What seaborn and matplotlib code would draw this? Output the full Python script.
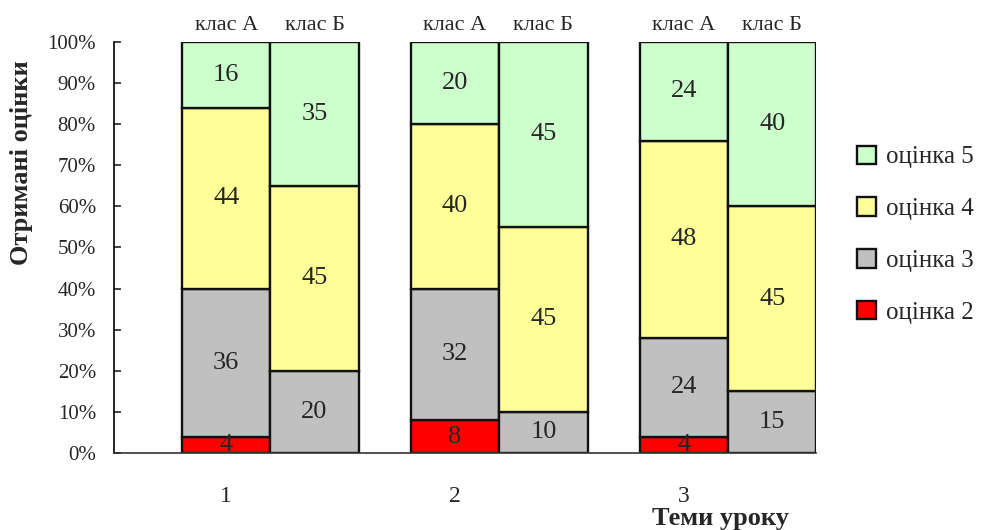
import numpy as np
import matplotlib
matplotlib.use("Agg")
import matplotlib.pyplot as plt
import seaborn as sns

# =================== Дані ===================
topics = ["1", "2", "3"]
classes = ["клас А", "клас Б"]
grades = ["оцінка 2", "оцінка 3", "оцінка 4", "оцінка 5"]
colors = ["#FF0000", "#C0C0C0", "#FFFF99", "#CCFFCC"]

# відсотки по темах: [тема] -> [оцінка 2, 3, 4, 5]
class_a = [[4, 36, 44, 16], [8, 32, 40, 20], [4, 24, 48, 24]]
class_b = [[0, 20, 45, 35], [0, 10, 45, 45], [0, 15, 45, 40]]

# =================== Стиль ===================
sns.set_style("ticks")
plt.rcParams['font.family'] = ['Liberation Serif', 'DejaVu Serif']

fig = plt.figure(figsize=(9.81, 5.3), dpi=100)
ax = fig.add_axes([0.1162, 0.1453, 0.716, 0.7755])

period = 2.59
pos_a = np.arange(len(topics)) * period
pos_b = pos_a + 1

for positions, data, first in [(pos_a, class_a, True), (pos_b, class_b, False)]:
    data = np.array(data) / 100.0
    bottom = np.zeros(len(positions))
    for g in range(len(grades)):
        vals = data[:, g]
        ax.bar(positions, vals, bottom=bottom, width=1.0, color=colors[g],
               edgecolor="#111111", linewidth=1.7, label=grades[g] if first else None)
        for x, b, v in zip(positions, bottom, vals):
            if v > 0:
                ax.text(x, b + v / 2, f"{v * 100:.0f}", ha="center", va="center", fontsize=19)
        bottom = bottom + vals

# підписи класів над стовпцями
for x in pos_a:
    ax.text(x, 1.018, classes[0], ha="center", va="bottom", fontsize=16)
for x in pos_b:
    ax.text(x, 1.018, classes[1], ha="center", va="bottom", fontsize=16)

ax.set_xlim(pos_a[0] - 1.27, pos_b[-1] + 0.5)
ax.set_ylim(0, 1)
yt = np.arange(0, 1.01, 0.1)
ax.set_yticks(yt)
ax.set_yticklabels([f"{int(round(t * 100))}%" for t in yt], fontsize=15)
ax.set_xticks(pos_a)
ax.set_xticklabels(topics, fontsize=17)
ax.tick_params(axis="x", length=0, pad=24)
ax.tick_params(axis="y", direction="in", length=5, width=1.2, pad=13)

sns.despine(ax=ax, top=True, right=True)
ax.spines["left"].set_linewidth(1.2)
ax.spines["bottom"].set_linewidth(1.2)
ax.spines["left"].set_color("black")
ax.spines["bottom"].set_color("#333333")

fig.text(0.022, 0.694, "Отримані оцінки", rotation=90, ha="center", va="center",
         fontsize=19, fontweight="bold")
fig.text(0.734, 0.021, "Теми уроку", ha="center", va="center",
         fontsize=19, fontweight="bold")

handles, labels = ax.get_legend_handles_labels()
leg = fig.legend(handles[::-1], labels[::-1], loc="center left",
                 bbox_to_anchor=(0.874, 0.557), frameon=False, fontsize=18,
                 handlelength=0.75, handleheight=0.75, handletextpad=0.4,
                 labelspacing=1.16, borderpad=0, borderaxespad=0)

fig.savefig("out.png", dpi=100)
